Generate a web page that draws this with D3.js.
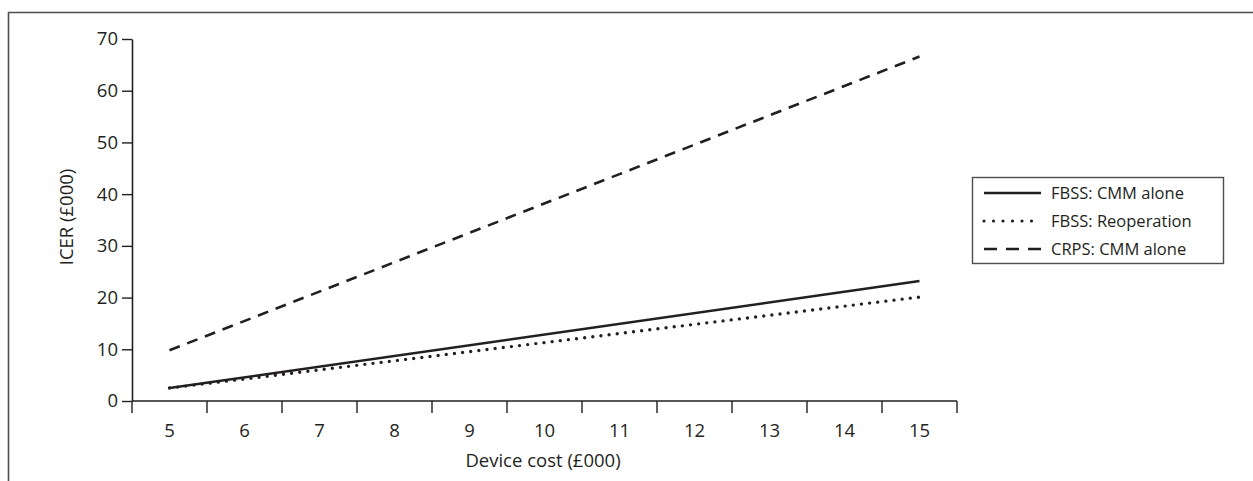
<!DOCTYPE html>
<html>
<head>
<meta charset="utf-8">
<script src="https://cdn.jsdelivr.net/npm/d3@7"></script>
<style>
  body { margin: 0; background: #fff; }
  text { font-family: "Open Sans", Lato, sans-serif; fill: #231f20; }
</style>
</head>
<body>
<div id="chart"></div>
<script>
// device cost (£000) categories on the x axis
const costs = [5, 6, 7, 8, 9, 10, 11, 12, 13, 14, 15];
const yTicks = [0, 10, 20, 30, 40, 50, 60, 70];

// ICER (£000) at the two ends of each straight line
const lineCosts = [5, 15];
const fbssCmm = [2.5, 23.2];
const fbssReop = [2.5, 20.1];
const crpsCmm = [9.8, 66.6];

const seriesNames = ["FBSS: CMM alone", "FBSS: Reoperation", "CRPS: CMM alone"];

const width = 1253, height = 481;

const svg = d3.select("#chart").append("svg")
    .attr("width", width)
    .attr("height", height);

// frame (top + left visible)
svg.append("path")
    .attr("d", "M8.5," + height + "V12.5H" + width)
    .attr("fill", "none")
    .attr("stroke", "#4d4d4f")
    .attr("stroke-width", 1.6);

const xScale = d3.scaleBand()
    .domain(costs)
    .range([132, 957])
    .padding(0);

const yScale = d3.scaleLinear()
    .domain([0, 70])
    .range([401, 39]);

const xPos = c => xScale(c) + xScale.bandwidth() / 2;

// x axis: ticks on band edges, labels on band centres
const xAxisG = svg.append("g").attr("transform", "translate(0,401)");
xAxisG.append("line")
    .attr("x1", 132).attr("x2", 957)
    .attr("stroke", "#231f20").attr("stroke-width", 1.6);
const edges = costs.map(c => xScale(c)).concat([957]);
xAxisG.selectAll(".xtick").data(edges).join("line")
    .attr("class", "xtick")
    .attr("x1", d => d).attr("x2", d => d)
    .attr("y1", 0).attr("y2", 12)
    .attr("stroke", "#231f20").attr("stroke-width", 1.4);
xAxisG.selectAll(".xlab").data(costs).join("text")
    .attr("class", "xlab")
    .attr("x", d => xPos(d))
    .attr("y", 36)
    .attr("text-anchor", "middle")
    .style("font-size", "18.5px")
    .text(d => d);

// y axis
svg.append("g")
    .attr("transform", "translate(132,0)")
    .call(d3.axisLeft(yScale).tickValues(yTicks).tickSize(10).tickPadding(4).tickSizeOuter(0))
    .call(g => g.select(".domain").attr("stroke", "#231f20").attr("stroke-width", 1.6))
    .call(g => g.selectAll(".tick line").attr("stroke", "#231f20").attr("stroke-width", 1.4))
    .call(g => g.selectAll(".tick text")
        .attr("font-size", null).attr("font-family", null)
        .style("font-size", "18.5px")
        .style("font-family", "'Open Sans', Lato, sans-serif")
        .attr("fill", "#231f20"));

// axis titles
svg.append("text")
    .attr("transform", "translate(73,217) rotate(-90)")
    .attr("text-anchor", "middle")
    .style("font-size", "18.5px")
    .text("ICER (£000)");

svg.append("text")
    .attr("x", 543)
    .attr("y", 467)
    .attr("text-anchor", "middle")
    .style("font-size", "18.5px")
    .text("Device cost (£000)");

const styles = [
    {dash: null, width: 2.6, cap: "butt"},
    {dash: "0 8.2", width: 3.4, cap: "round"},
    {dash: "11 8", width: 2.6, cap: "butt"}
];
const seriesValues = [fbssCmm, fbssReop, crpsCmm];

const line = d3.line()
    .x(d => xPos(d[0]))
    .y(d => yScale(d[1]));

seriesValues.forEach((vals, i) => {
    svg.append("path")
        .datum(lineCosts.map((c, j) => [c, vals[j]]))
        .attr("d", line)
        .attr("fill", "none")
        .attr("stroke", "#231f20")
        .attr("stroke-width", styles[i].width)
        .attr("stroke-linecap", styles[i].cap)
        .attr("stroke-dasharray", styles[i].dash);
});

// legend
const legend = svg.append("g");
legend.append("rect")
    .attr("x", 972.5).attr("y", 177.5)
    .attr("width", 251).attr("height", 86)
    .attr("fill", "#fff")
    .attr("stroke", "#4d4d4f").attr("stroke-width", 1.4);

const legendDash = [null, "0 9.5", "13 9"];
seriesNames.forEach((name, i) => {
    const y = 193 + i * 28;
    legend.append("line")
        .attr("x1", 984).attr("x2", 1041)
        .attr("y1", y).attr("y2", y)
        .attr("stroke", "#231f20")
        .attr("stroke-width", i === 1 ? 3.2 : 2.4)
        .attr("stroke-linecap", i === 1 ? "round" : "butt")
        .attr("stroke-dasharray", legendDash[i]);
    legend.append("text")
        .attr("x", 1051)
        .attr("y", y + 6)
        .style("font-size", "16.5px")
        .text(name);
});
</script>
</body>
</html>
